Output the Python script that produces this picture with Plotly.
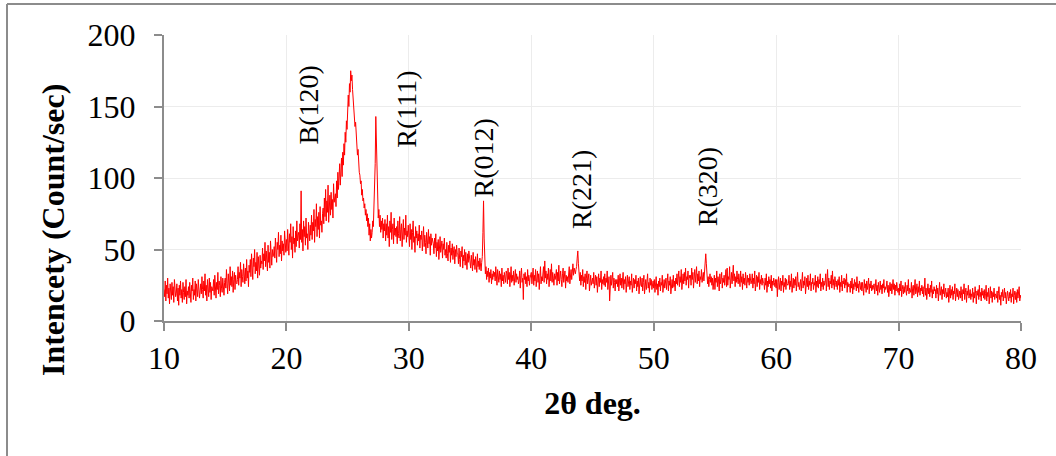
import plotly.graph_objects as go

# 2-theta scan, one row of intensities (count/sec) per degree, start angle of each row
row_start_deg = list(range(10, 81))

intensity_rows = [
    [22,17,28,14,25,19,30,16,23,12,26,20,15,27,18,24,13,29,21,17],   # 10
    [19,26,14,23,11,25,18,28,16,22,13,27,20,15,24,17,29,12,21,18],   # 11
    [24,16,27,19,13,25,21,30,15,22,18,28,14,26,20,17,29,23,16,21],   # 12
    [26,19,31,22,16,28,21,33,18,25,14,29,23,17,30,20,27,15,24,22],   # 13
    [21,29,18,32,24,16,27,22,34,19,28,25,17,31,23,20,30,26,18,27],   # 14
    [30,23,36,26,19,33,28,21,38,25,31,24,35,20,29,34,22,32,27,26],   # 15
    [29,38,25,34,30,41,24,36,31,27,40,33,26,37,28,43,30,35,24,39],   # 16
    [34,43,31,47,36,29,44,38,50,33,41,35,48,30,45,39,32,46,37,42],   # 17
    [40,51,36,47,42,55,38,49,44,35,53,41,48,37,56,43,39,50,45,46],   # 18
    [52,44,58,48,41,55,50,62,45,53,47,60,42,56,49,54,46,63,51,48],   # 19
    [57,49,64,53,46,61,55,68,50,59,44,66,54,58,48,63,52,70,56,60],   # 20
    [62,51,68,57,91,55,64,49,70,59,66,53,72,58,61,50,69,63,56,67],   # 21
    [60,74,57,69,63,78,55,71,66,82,59,73,64,76,58,80,67,70,62,75],   # 22
    [79,68,86,73,92,70,84,76,95,69,81,88,74,90,78,85,72,96,83,87],   # 23
    [89,80,98,86,104,92,99,110,95,106,114,101,118,109,124,116,132,125,140,134],  # 24
    [148,158,150,166,160,175,168,172,162,157,150,144,136,139,128,122,116,120,108,104],  # 25
    [102,96,98,88,92,84,86,79,82,74,78,70,75,66,72,60,68,56,64,58],  # 26
    [62,70,66,78,88,110,143,120,96,84,72,78,66,74,62,70,64,72,58,68],  # 27
    [63,71,56,68,60,74,58,66,52,70,62,76,57,64,68,54,72,60,65,59],   # 28
    [66,54,70,61,58,73,56,64,68,52,62,71,57,65,60,74,55,63,59,67],   # 29
    [60,52,68,57,64,50,62,70,55,59,48,66,58,63,53,61,56,67,51,60],   # 30
    [57,63,49,58,66,52,60,55,47,62,56,51,64,54,59,46,61,53,58,55],   # 31
    [54,47,58,51,61,45,55,49,57,43,53,59,48,52,56,44,54,50,58,46],   # 32
    [50,44,55,47,42,53,48,56,41,51,46,54,43,49,52,40,50,45,53,47],   # 33
    [47,40,51,43,38,49,45,52,37,46,42,50,39,48,44,36,47,41,49,43],   # 34
    [44,37,46,40,35,48,39,43,36,45,41,34,47,38,42,36,44,39,35,41],   # 35
    [45,62,84,58,40,33,38,29,35,31,37,27,34,30,36,26,33,29,35,31],   # 36
    [34,28,38,30,25,36,31,27,35,29,33,24,37,28,32,26,34,30,27,35],   # 37
    [33,26,37,29,34,24,31,38,27,32,28,35,25,30,36,27,33,29,31,26],   # 38
    [28,35,23,32,37,27,30,15,33,29,34,26,31,24,36,28,32,25,30,33],   # 39
    [34,26,31,37,25,32,28,36,24,30,35,27,33,22,29,38,26,31,28,34],   # 40
    [38,27,42,30,35,26,33,29,37,24,31,36,28,40,27,34,30,25,33,29],   # 41
    [32,36,25,34,28,39,26,31,35,29,24,33,37,27,30,35,23,32,28,31],   # 42
    [27,33,38,26,31,36,29,34,40,32,37,35,33,36,38,44,49,40,31,28],   # 43
    [34,25,32,28,36,24,31,27,33,22,30,35,26,29,33,21,28,32,25,30],   # 44
    [30,26,34,23,29,32,25,31,20,28,33,24,30,27,35,22,29,26,31,25],   # 45
    [33,24,30,27,35,22,29,31,14,26,32,25,28,34,23,30,27,21,29,26],   # 46
    [29,24,32,21,28,33,25,30,23,27,34,22,29,26,31,20,28,32,24,27],   # 47
    [31,22,28,25,33,20,27,30,23,29,26,32,21,28,24,30,19,27,31,25],   # 48
    [24,30,21,27,32,19,26,29,22,28,33,23,27,20,30,25,29,22,26,28],   # 49
    [23,29,20,27,31,22,26,18,28,24,30,21,27,25,32,20,26,29,23,27],   # 50
    [30,22,27,33,21,28,25,31,19,26,29,23,32,24,28,21,30,26,33,25],   # 51
    [29,35,24,31,27,36,22,30,33,26,34,28,37,25,31,29,35,23,32,30],   # 52
    [32,25,37,29,34,23,30,36,27,31,38,26,33,28,35,24,31,29,36,27],   # 53
    [30,34,28,36,41,47,40,33,26,31,24,29,33,27,31,25,30,22,28,32],   # 54
    [22,30,27,35,24,31,28,21,33,26,29,34,23,30,27,32,25,29,36,24],   # 55
    [37,25,31,29,38,23,30,34,26,32,39,28,33,24,31,27,35,29,26,33],   # 56
    [29,24,35,27,31,22,33,26,30,25,34,28,23,32,27,30,25,33,28,26],   # 57
    [28,33,23,30,26,35,21,29,32,24,31,27,34,22,29,26,32,25,30,27],   # 58
    [27,22,30,25,33,20,28,24,31,26,29,23,32,21,28,25,30,27,24,29],   # 59
    [23,29,17,27,31,22,26,30,21,28,25,32,20,27,24,30,22,29,26,25],   # 60
    [26,32,22,28,24,33,20,27,30,23,29,25,31,21,28,34,24,27,22,29],   # 61
    [29,21,27,34,23,28,25,31,19,26,30,24,32,22,28,25,33,21,27,26],   # 62
    [30,22,27,25,32,20,28,24,31,23,29,26,33,21,27,24,30,22,28,25],   # 63
    [27,33,21,29,36,24,30,22,28,26,32,23,35,25,29,22,31,27,24,28],   # 64
    [22,29,25,31,20,27,24,32,21,28,26,30,23,29,25,33,20,27,24,26],   # 65
    [25,20,28,23,30,19,26,22,29,24,27,21,31,23,26,20,28,25,22,27],   # 66
    [21,27,24,18,29,23,26,20,28,22,25,30,19,26,23,28,21,25,22,24],   # 67
    [26,19,24,29,21,25,18,27,23,20,28,22,25,19,26,23,29,20,24,22],   # 68
    [24,28,20,25,17,23,27,21,26,19,24,29,22,26,18,25,21,27,23,20],   # 69
    [23,18,26,21,28,17,22,25,19,24,20,27,22,18,25,21,29,19,23,22],   # 70
    [20,27,16,23,25,18,22,29,19,21,26,17,24,20,28,18,23,21,25,19],   # 71
    [24,17,22,30,18,23,15,21,26,19,23,17,25,20,28,16,22,19,24,21],   # 72
    [22,16,25,19,23,14,21,27,18,20,24,15,22,19,26,17,21,23,16,20],   # 73
    [17,23,13,20,25,16,22,18,24,15,21,19,26,14,20,23,17,22,15,19],   # 74
    [21,16,24,18,14,22,19,26,15,20,23,13,21,18,25,16,20,22,15,19],   # 75
    [17,23,13,20,16,24,19,12,21,18,22,15,25,17,20,14,23,18,21,16],   # 76
    [22,15,19,25,14,20,17,23,12,18,24,16,21,13,20,17,23,15,19,18],   # 77
    [16,21,13,19,24,15,18,11,20,17,22,14,19,23,16,20,12,18,21,17],   # 78
    [14,20,16,22,13,19,17,23,12,18,21,15,20,13,22,16,19,24,14,18],   # 79
    [16],                                                             # 80
]

# Peak labels
peak_labels = ["B(120)", "R(111)", "R(012)", "R(221)", "R(320)"]
peak_label_x = [21.8, 29.8, 36.1, 44.1, 54.4]
peak_label_y = [151, 148, 114, 92, 94]

x_ticks = [10, 20, 30, 40, 50, 60, 70, 80]
y_ticks = [0, 50, 100, 150, 200]

# Flatten rows into the scan (points evenly spaced inside each degree)
two_theta, intensity = [], []
for deg, row in zip(row_start_deg, intensity_rows):
    n = len(row)
    for k, v in enumerate(row):
        two_theta.append(round(deg + k / n, 4))
        intensity.append(v)

FONT = "Liberation Serif, Times New Roman, serif"
AXIS = "#8c8c8c"
GRID = "#ececec"

fig = go.Figure()
fig.add_trace(go.Scatter(
    x=two_theta, y=intensity, mode="lines",
    line=dict(color="#ff0000", width=1),
    showlegend=False, hoverinfo="skip",
))

for lab, lx, ly in zip(peak_labels, peak_label_x, peak_label_y):
    fig.add_annotation(x=lx, y=ly, text=lab, textangle=-90, showarrow=False,
                       font=dict(family=FONT, size=28, color="#000000"),
                       xanchor="center", yanchor="middle")

# Y-axis title (placed as in the reference, below the plot's vertical centre)
fig.add_annotation(xref="paper", yref="paper", x=-0.1295, y=0.318,
                   text="<b>Intencety (Count/sec)</b>", textangle=-90,
                   showarrow=False, xanchor="center", yanchor="middle",
                   font=dict(family=FONT, size=32, color="#000000"))

# Outer chart border (only top & left visible in reference)
fig.add_shape(type="line", xref="paper", yref="paper",
              x0=-0.1832, x1=1.06, y0=1.1084, y1=1.1084,
              line=dict(color="#8c8c8c", width=2))
fig.add_shape(type="line", xref="paper", yref="paper",
              x0=-0.1832, x1=-0.1832, y0=1.1084, y1=-0.5,
              line=dict(color="#8c8c8c", width=2))

fig.update_layout(
    width=1056, height=456,
    margin=dict(l=164, r=35, t=35, b=135),
    paper_bgcolor="white", plot_bgcolor="white",
    font=dict(family=FONT, color="#000000"),
    xaxis=dict(
        range=[10, 80], tickvals=x_ticks, ticktext=[str(v) for v in x_ticks],
        showgrid=True, gridcolor=GRID, gridwidth=1,
        showline=True, linecolor=AXIS, linewidth=2,
        ticks="outside", ticklen=8, tickcolor=AXIS, tickwidth=2,
        tickfont=dict(family=FONT, size=32, color="#000000"),
        ticklabelstandoff=0,
        zeroline=False,
        title=dict(text="<b>2θ deg.</b>", standoff=16,
                   font=dict(family=FONT, size=32, color="#000000")),
    ),
    yaxis=dict(
        range=[0, 200], tickvals=y_ticks, ticktext=[str(v) for v in y_ticks],
        showgrid=True, gridcolor=GRID, gridwidth=1,
        showline=True, linecolor=AXIS, linewidth=2,
        ticks="outside", ticklen=8, tickcolor=AXIS, tickwidth=2,
        tickfont=dict(family=FONT, size=32, color="#000000"),
        ticklabelstandoff=12,
        zeroline=False,
    ),
)

fig.write_html("out.html")
